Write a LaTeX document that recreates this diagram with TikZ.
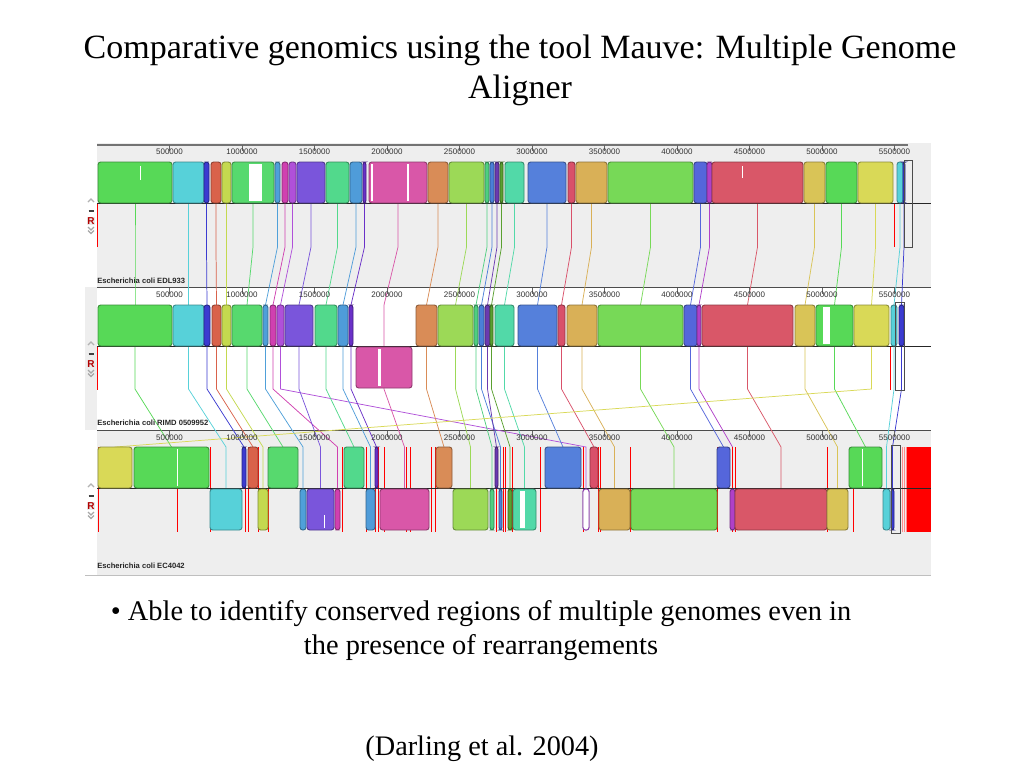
\documentclass[tikz,border=0pt]{standalone}
\usepackage{fontspec}
\setmainfont{Liberation Serif}
\setsansfont{Liberation Sans}
\begin{document}
\begin{tikzpicture}[x=0.75pt,y=-0.75pt,
  lcbline/.style={line width=0.55pt},
  lcbblock/.style={rounded corners=2pt,line width=0.7pt},
  rulerlabel/.style={font=\sffamily\fontsize{6}{7}\selectfont,inner sep=0pt,text=black!80},
  genomelabel/.style={font=\sffamily\bfseries\fontsize{5.7}{7}\selectfont,anchor=base west,inner sep=0pt,text=black!85},
  redline/.style={draw=red,line width=0.6pt},
  selbox/.style={draw=black!70,line width=0.6pt}]
\definecolor{panelGray}{RGB}{238,238,238}
\definecolor{lcbGreen}{RGB}{87,217,87}
\definecolor{lcbCyan}{RGB}{87,209,217}
\definecolor{lcbNavy}{RGB}{59,59,208}
\definecolor{lcbBrick}{RGB}{217,98,75}
\definecolor{lcbOlive}{RGB}{196,217,79}
\definecolor{lcbJade}{RGB}{87,217,110}
\definecolor{lcbSky}{RGB}{79,160,217}
\definecolor{lcbMagenta}{RGB}{208,64,176}
\definecolor{lcbLilac}{RGB}{176,80,217}
\definecolor{lcbViolet}{RGB}{122,85,219}
\definecolor{lcbMint}{RGB}{82,217,140}
\definecolor{lcbAzure}{RGB}{79,156,217}
\definecolor{lcbIndigo}{RGB}{106,48,200}
\definecolor{lcbPink}{RGB}{217,87,168}
\definecolor{lcbOrange}{RGB}{217,140,87}
\definecolor{lcbLime}{RGB}{156,217,87}
\definecolor{lcbSea}{RGB}{79,207,128}
\definecolor{lcbCobalt}{RGB}{74,127,217}
\definecolor{lcbPlum}{RGB}{106,58,176}
\definecolor{lcbMoss}{RGB}{90,160,48}
\definecolor{lcbTeal}{RGB}{82,217,168}
\definecolor{lcbBlue}{RGB}{85,128,219}
\definecolor{lcbRose}{RGB}{217,80,106}
\definecolor{lcbGold}{RGB}{217,176,87}
\definecolor{lcbGrass}{RGB}{119,217,87}
\definecolor{lcbRoyal}{RGB}{85,102,219}
\definecolor{lcbOrchid}{RGB}{176,64,200}
\definecolor{lcbRed}{RGB}{217,87,104}
\definecolor{lcbSand}{RGB}{217,196,87}
\definecolor{lcbYellow}{RGB}{217,217,87}
\path[use as bounding box,fill=white] (0,0) rectangle (1024,768);

% title and text
\node[font=\fontsize{25.5}{30}\selectfont,align=center] (title) at (520,70)
  {Comparative genomics using the tool Mauve: Multiple Genome\\Aligner};
\node[font=\fontsize{21.3}{25.5}\selectfont,align=center] (bullet) at (481,631)
  {\textbullet\ Able to identify conserved regions of multiple genomes even in\\the presence of rearrangements};
\node[font=\fontsize{21.2}{24}\selectfont] (cite) at (482,749) {(Darling et al. 2004)};

% panels
\fill[panelGray] (97,143) rectangle (931,287);
\fill[panelGray] (85,287) rectangle (97,430);
\fill[panelGray] (97,430) rectangle (931,575);
\draw[black!55,line width=0.8pt] (97,145) -- (908,145);
\draw[black!70,line width=0.6pt] (97,287.5) -- (931,287.5);
\draw[black!70,line width=0.6pt] (97,430.5) -- (931,430.5);
\draw[black!25,line width=0.6pt] (85,575) -- (931,575);

% aligned blocks: colour / genome 1 / genome 2 (row) / genome 3 (row)
\def\lcbdata{lcbGreen/98/172/98/172/0/134/209/0,
  lcbCyan/173/204/173/204/0/210/242/1,
  lcbNavy/204/209/204/210/0/242/246/0,
  lcbBrick/211/221/212/221/0/248/258/0,
  lcbOlive/222/231/222/231/0/258/268/1,
  lcbJade/232/274/232/262/0/268/298/0,
  lcbSky/275/280/263/268/0/300/306/1,
  lcbMagenta/282/288/270/276/0/335/340/1,
  lcbLilac/289/296/277/284/0/583/589/1,
  lcbViolet/297/325/285/313/0/307/334/1,
  lcbMint/326/349/315/337/0/344/364/0,
  lcbAzure/350/362/338/348/0/366/375/1,
  lcbIndigo/363/366/349/353/0/375/378/0,
  lcbPink/369/427/356/412/1/380/429/1,
  lcbOrange/428/448/416/437/0/436/452/0,
  lcbLime/449/484/438/473/0/453/488/1,
  lcbSea/485/489/474/478/0/490/494/1,
  lcbCobalt/490/494/479/484/0/499/502/1,
  lcbPlum/495/499/485/490/0/495/498/0,
  lcbMoss/500/503/490/493/0/508/512/1,
  lcbTeal/505/524/495/514/0/513/536/1,
  lcbBlue/528/566/518/557/0/545/581/0,
  lcbRose/568/575/558/565/0/590/598/0,
  lcbGold/576/607/567/597/0/599/630/1,
  lcbGrass/608/693/598/683/0/631/717/1,
  lcbRoyal/694/707/684/697/0/717/730/0,
  lcbOrchid/707/712/697/701/0/730/735/1,
  lcbRed/712/803/702/793/0/735/827/1,
  lcbSand/804/825/795/815/0/827/848/1,
  lcbGreen/826/857/816/853/0/849/882/0,
  lcbYellow/858/893/854/889/0/98/132/0,
  lcbCyan/897/903/891/897/0/883/890/1,
  lcbNavy/903/905/899/904/0/891/894/1}

% connecting lines
\foreach \col/\al/\ar/\bl/\br/\brow/\cl/\cr/\crow in \lcbdata {
  \pgfmathsetmacro\ca{(\al+\ar)/2}
  \pgfmathsetmacro\cb{(\bl+\br)/2}
  \pgfmathsetmacro\cc{(\cl+\cr)/2}
  \pgfmathsetmacro\yb{346+41*\brow}
  \draw[lcbline,draw=\col] (\ca,203) -- (\ca,247) -- (\cb,305) -- (\cb,346);
  \draw[lcbline,draw=\col] (\cb,\yb) -- (\cb,389) -- (\cc,447) -- (\cc,488);
}
\draw[redline] (97.5,203) -- (97.5,247);
\draw[redline] (894,203) -- (894,247);
\draw[redline] (97.5,346) -- (97.5,390);
\draw[redline] (890,346) -- (890,390);

% unaligned regions in the third genome
\foreach \x in {98,177,210,245,248,258,268,342,366,375,378,384,406,410,431,435,496,503,505,512,540,583,598,600,630,717,732,735,827,853}
  \draw[redline] (\x,447) -- (\x,532);
\foreach \x in {900,902,904,906}
  \draw[draw=red!45,line width=0.6pt] (\x,447) -- (\x,532);
\fill[red] (907,447) rectangle (931,532);

% centre lines
\draw[black!85,line width=0.6pt] (97,203) -- (931,203);
\draw[black!85,line width=0.6pt] (97,346) -- (931,346);
\draw[black!85,line width=0.6pt] (97,488) -- (931,488);

% rulers
\foreach \y in {145,288,431}
  \foreach \p/\lab in {1/500000,2/1000000,3/1500000,4/2000000,5/2500000,6/3000000,
                       7/3500000,8/4000000,9/4500000,10/5000000,11/5500000} {
    \draw[black!60,line width=0.5pt] ({97+72.5*\p},\y) -- ({97+72.5*\p},\y+6);
    \node[rulerlabel] (tick\p) at ({97+72.5*\p},\y+7) {\lab};
  }

% blocks
\foreach \col/\al/\ar/\bl/\br/\brow/\cl/\cr/\crow in \lcbdata {
  \pgfmathsetmacro\ybt{305+42*\brow}
  \pgfmathsetmacro\yct{447+42*\crow}
  \draw[lcbblock,fill=\col,draw=\col!65!black] (\al,162) rectangle (\ar,203);
  \draw[lcbblock,fill=\col,draw=\col!65!black] (\bl,\ybt) rectangle (\br,\ybt+41);
  \draw[lcbblock,fill=\col,draw=\col!65!black] (\cl,\yct) rectangle (\cr,\yct+41);
}
\draw[lcbblock,fill=white,draw=lcbLilac!80!black] (583,489) rectangle (589,530);

% gaps inside blocks
\fill[white] (249,164) rectangle (262,201);
\fill[white] (140,166) rectangle (141,180);
\fill[white] (371,164) rectangle (373,201);
\fill[white] (407,164) rectangle (409,201);
\fill[white] (742,166) rectangle (743,178);
\fill[white] (378,349) rectangle (381,386);
\fill[white] (823,307) rectangle (830,344);
\fill[white] (177,449) rectangle (178,486);
\fill[white] (520,491) rectangle (525,528);
\fill[white] (862,449) rectangle (863,486);
\fill[white] (324,515) rectangle (325,528);

% selected region
\draw[selbox] (904,160) rectangle (912,247);
\draw[selbox] (895,302) rectangle (904,390);
\draw[selbox] (891,445) rectangle (900,533);

% panel controls
\foreach \m/\i in {203/1,346/2,488/3} {
  \draw[black!30,line width=1pt] (88,\m-1) -- (91,\m-4) -- (94,\m-1);
  \draw[black!75,line width=1pt] (88.5,\m+8) -- (93.5,\m+8);
  \node[font=\sffamily\bfseries\fontsize{7.5}{8}\selectfont,text=red!70!black,inner sep=0.6pt,fill=black!8] (rbtn\i) at (91,\m+18) {R};
  \draw[black!35,line width=0.9pt] (88,\m+24) -- (91,\m+27) -- (94,\m+24);
  \draw[black!35,line width=0.9pt] (88,\m+27.5) -- (91,\m+30.5) -- (94,\m+27.5);
}

% genome names
\node[genomelabel] (gname1) at (97,283) {Escherichia coli EDL933};
\node[genomelabel] (gname2) at (97,425) {Escherichia coli RIMD 0509952};
\node[genomelabel] (gname3) at (97,568) {Escherichia coli EC4042};
\end{tikzpicture}
\end{document}
